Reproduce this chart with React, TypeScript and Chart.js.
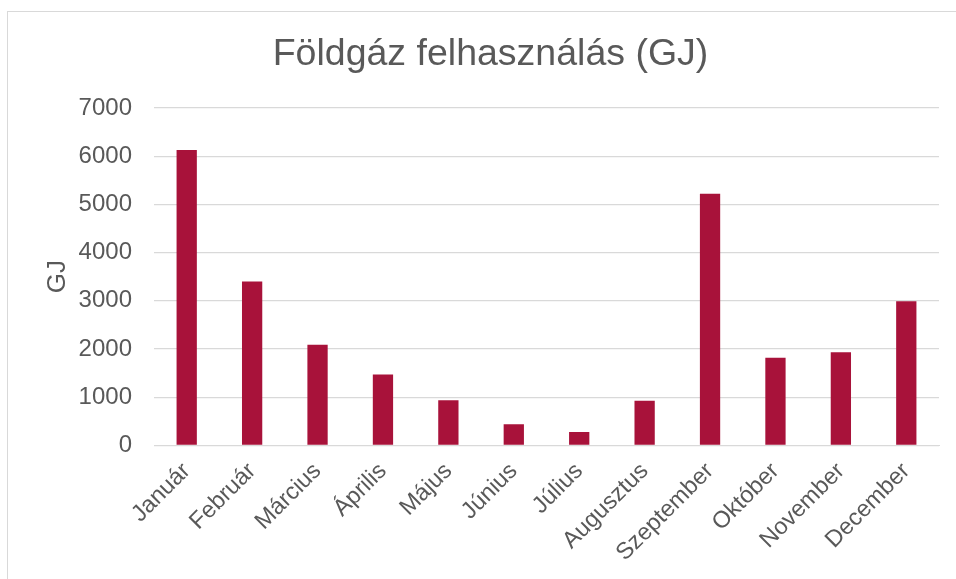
import React, { useEffect, useRef } from "react";
import { Chart, registerables } from "chart.js";

Chart.register(...registerables);

const months = [
  "Január", "Február", "Március", "Április", "Május", "Június",
  "Július", "Augusztus", "Szeptember", "Október", "November", "December",
];
const gasGJ = [6130, 3400, 2090, 1470, 940, 440, 280, 930, 5220, 1820, 1935, 2990];
const titleText = "Földgáz felhasználás (GJ)";
const yAxisTitle = "GJ";

const FONT = "'Liberation Sans', Arial, sans-serif";
const TEXT = "#595959";

export default function App() {
  const ref = useRef<HTMLCanvasElement | null>(null);
  useEffect(() => {
    if (!ref.current) return;
    const chart = new Chart(ref.current, {
      type: "bar",
      data: {
        labels: months,
        datasets: [
          {
            data: gasGJ,
            backgroundColor: "#A8123A",
            categoryPercentage: 1,
            barPercentage: 0.31,
          },
        ],
      },
      options: {
        animation: false,
        responsive: false,
        maintainAspectRatio: false,
        layout: { padding: { left: 34, right: 27, top: 0, bottom: 19 } },
        plugins: {
          legend: { display: false },
          tooltip: { enabled: false },
          title: {
            display: true,
            text: titleText,
            color: TEXT,
            font: { family: FONT, size: 37.5, weight: "normal" },
            padding: { top: 20, bottom: 31 },
          },
        },
        scales: {
          x: {
            grid: { display: false },
            border: { display: true, color: "#D9D9D9", width: 1 },
            ticks: {
              color: TEXT,
              font: { family: FONT, size: 23.5 },
              maxRotation: 45,
              minRotation: 45,
              padding: 4,
              autoSkip: false,
            },
          },
          y: {
            min: 0,
            max: 7000,
            border: { display: false },
            grid: { color: "#D9D9D9", lineWidth: 1.3, drawTicks: false },
            afterFit: (scale: any) => {
              scale.width = 112;
            },
            ticks: {
              stepSize: 1000,
              color: TEXT,
              font: { family: FONT, size: 24 },
              padding: 22,
              callback: (v: any) => String(v),
            },
            title: {
              display: true,
              text: yAxisTitle,
              color: TEXT,
              font: { family: FONT, size: 26 },
              padding: { top: 0, bottom: 0 },
            },
          },
        },
      },
    });
    return () => chart.destroy();
  }, []);
  return (
    <div
      style={{
        position: "fixed",
        left: 7,
        top: 11,
        width: 960,
        height: 580,
        border: "1px solid #D9D9D9",
        boxSizing: "border-box",
        background: "#fff",
      }}
    >
      <canvas ref={ref} width={958} height={578} style={{ display: "block" }} />
    </div>
  );
}
